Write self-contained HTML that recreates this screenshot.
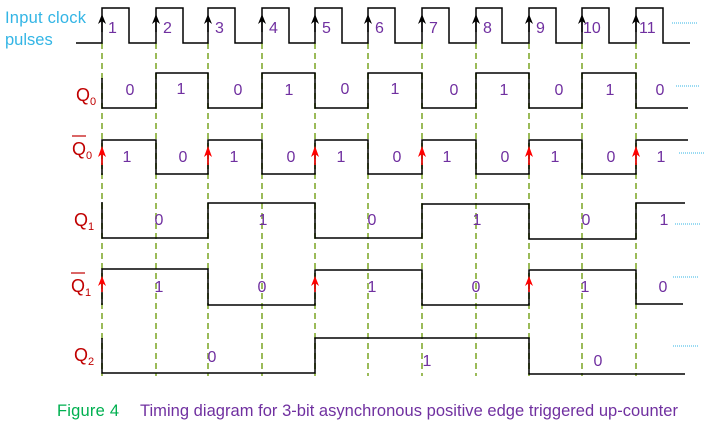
<!DOCTYPE html>
<html><head><meta charset="utf-8"><style>
html,body{margin:0;padding:0;background:#fff;width:712px;height:423px;overflow:hidden}
svg{display:block}
text{font-family:"Liberation Sans",sans-serif}
.n{fill:#7030a0;font-size:16px}
.q{fill:#c00000;font-size:18px}
.s{font-size:11px}
</style></head><body>
<svg width="712" height="423" viewBox="0 0 712 423" xmlns="http://www.w3.org/2000/svg">
<g stroke="#9bbb59" stroke-width="2" stroke-dasharray="6,4">
<line x1="102" y1="43" x2="102" y2="376"/><line x1="156" y1="43" x2="156" y2="376"/>
<line x1="208" y1="43" x2="208" y2="376"/><line x1="262" y1="43" x2="262" y2="376"/>
<line x1="315" y1="43" x2="315" y2="376"/><line x1="368" y1="43" x2="368" y2="376"/>
<line x1="422" y1="43" x2="422" y2="376"/><line x1="476" y1="43" x2="476" y2="376"/>
<line x1="529" y1="43" x2="529" y2="376"/><line x1="582" y1="43" x2="582" y2="376"/>
<line x1="636" y1="43" x2="636" y2="376"/>
</g>
<g fill="none" stroke="#000" stroke-width="1.5">
<path d="M76,43 H102 V8 H129 V43 H156 V8 H183 V43 H208 V8 H235 V43 H262 V8 H289 V43 H315 V8 H342 V43 H368 V8 H395 V43 H422 V8 H449 V43 H476 V8 H502 V43 H529 V8 H556 V43 H582 V8 H609 V43 H636 V8 H663 V43 H690"/>
<path d="M102,78 V108 H156 V73 H208 V108 H262 V73 H315 V108 H368 V73 H422 V108 H476 V73 H529 V108 H582 V73 H636 V108 H688"/>
<path d="M102,175 V140 H156 V174 H208 V140 H262 V174 H315 V140 H368 V174 H422 V140 H476 V174 H529 V140 H582 V174 H636 V140 H688"/>
<path d="M102,202 V238 H208 V203 H315 V238 H422 V204 H529 V239 H636 V203 H685"/>
<path d="M102,305 V269 H208 V305 H315 V270 H422 V305 H529 V270 H636 V304 H683"/>
<path d="M102,338 V373 H315 V338 H529 V374 H685"/>
</g>
<g id="ca" stroke="#000" stroke-width="1.5">
<line x1="102" y1="32" x2="102" y2="18"/><line x1="156" y1="32" x2="156" y2="18"/>
<line x1="208" y1="32" x2="208" y2="18"/><line x1="262" y1="32" x2="262" y2="18"/>
<line x1="315" y1="32" x2="315" y2="18"/><line x1="368" y1="32" x2="368" y2="18"/>
<line x1="422" y1="32" x2="422" y2="18"/><line x1="476" y1="32" x2="476" y2="18"/>
<line x1="529" y1="32" x2="529" y2="18"/><line x1="582" y1="32" x2="582" y2="18"/>
<line x1="636" y1="32" x2="636" y2="18"/>
</g>
<g fill="#000">
<path d="M98,24 L102,14 L106,24 L102,21Z"/><path d="M152,24 L156,14 L160,24 L156,21Z"/>
<path d="M204,24 L208,14 L212,24 L208,21Z"/><path d="M258,24 L262,14 L266,24 L262,21Z"/>
<path d="M311,24 L315,14 L319,24 L315,21Z"/><path d="M364,24 L368,14 L372,24 L368,21Z"/>
<path d="M418,24 L422,14 L426,24 L422,21Z"/><path d="M472,24 L476,14 L480,24 L476,21Z"/>
<path d="M525,24 L529,14 L533,24 L529,21Z"/><path d="M578,24 L582,14 L586,24 L582,21Z"/>
<path d="M632,24 L636,14 L640,24 L636,21Z"/>
</g>
<g stroke="#f00" stroke-width="1.5">
<line x1="102" y1="165" x2="102" y2="150"/><line x1="208" y1="165" x2="208" y2="150"/>
<line x1="315" y1="165" x2="315" y2="150"/><line x1="422" y1="165" x2="422" y2="150"/>
<line x1="529" y1="165" x2="529" y2="150"/><line x1="636" y1="165" x2="636" y2="150"/>
<line x1="102" y1="292" x2="102" y2="280"/><line x1="315" y1="292" x2="315" y2="280"/>
<line x1="529" y1="292" x2="529" y2="280"/>
</g>
<g fill="#f00">
<path d="M98,157 L102,146 L106,157 L102,154Z"/><path d="M204,157 L208,146 L212,157 L208,154Z"/>
<path d="M311,157 L315,146 L319,157 L315,154Z"/><path d="M418,157 L422,146 L426,157 L422,154Z"/>
<path d="M525,157 L529,146 L533,157 L529,154Z"/><path d="M632,157 L636,146 L640,157 L636,154Z"/>
<path d="M98,286 L102,276 L106,286 L102,283Z"/><path d="M311,286 L315,276 L319,286 L315,283Z"/>
<path d="M525,286 L529,276 L533,286 L529,283Z"/>
</g>
<g stroke="#33b5e5" stroke-width="1" stroke-dasharray="1,1">
<line x1="672" y1="23" x2="697" y2="23"/><line x1="676" y1="86" x2="700" y2="86"/>
<line x1="679" y1="153" x2="704" y2="153"/><line x1="675" y1="224" x2="700" y2="224"/>
<line x1="673" y1="277" x2="698" y2="277"/><line x1="673" y1="346" x2="698" y2="346"/>
</g>
<text x="5" y="23" fill="#33b5e5" font-size="16.5" textLength="81">Input clock</text>
<text x="5" y="45" fill="#33b5e5" font-size="16.5">pulses</text>
<g class="n">
<text x="108" y="33">1</text><text x="163" y="33">2</text><text x="215" y="33">3</text><text x="269" y="33">4</text>
<text x="322" y="33">5</text><text x="375" y="33">6</text><text x="429" y="33">7</text><text x="483" y="33">8</text>
<text x="536" y="33">9</text><text x="583" y="33">10</text><text x="639" y="33">11</text>
</g>
<g class="n" text-anchor="middle">
<text x="130" y="95">0</text><text x="181" y="94">1</text><text x="238" y="95">0</text><text x="289" y="95">1</text>
<text x="345" y="94">0</text><text x="395" y="94">1</text><text x="454" y="95">0</text><text x="504" y="95">1</text>
<text x="559" y="95">0</text><text x="610" y="95">1</text><text x="660" y="95">0</text>
<text x="127" y="162">1</text><text x="183" y="162">0</text><text x="234" y="162">1</text><text x="291" y="162">0</text>
<text x="341" y="162">1</text><text x="397" y="162">0</text><text x="447" y="162">1</text><text x="505" y="162">0</text>
<text x="555" y="162">1</text><text x="611" y="162">0</text><text x="661" y="162">1</text>
<text x="159" y="225">0</text><text x="263" y="225">1</text><text x="372" y="225">0</text><text x="477" y="225">1</text>
<text x="586" y="225">0</text><text x="664" y="225">1</text>
<text x="159" y="292">1</text><text x="262" y="292">0</text><text x="372" y="292">1</text><text x="476" y="292">0</text>
<text x="585" y="292">1</text><text x="663" y="292">0</text>
<text x="212" y="362">0</text><text x="427" y="366">1</text><text x="598" y="366">0</text>
</g>
<g class="q">
<text x="76" y="101">Q<tspan class="s" dy="4">0</tspan></text>
<text x="72" y="155">Q<tspan class="s" dy="4">0</tspan></text>
<line x1="72" y1="136" x2="86" y2="136" stroke="#c00000" stroke-width="1.2"/>
<text x="74" y="226">Q<tspan class="s" dy="4">1</tspan></text>
<text x="71" y="292">Q<tspan class="s" dy="4">1</tspan></text>
<line x1="71" y1="273" x2="85" y2="273" stroke="#c00000" stroke-width="1.2"/>
<text x="74" y="361">Q<tspan class="s" dy="4">2</tspan></text>
</g>
<text x="57" y="416" fill="#00b050" font-size="16.5" textLength="62">Figure 4</text>
<text x="140" y="416" fill="#7030a0" font-size="16.5" textLength="538">Timing diagram for 3-bit asynchronous positive edge triggered up-counter</text>
</svg>
</body></html>
